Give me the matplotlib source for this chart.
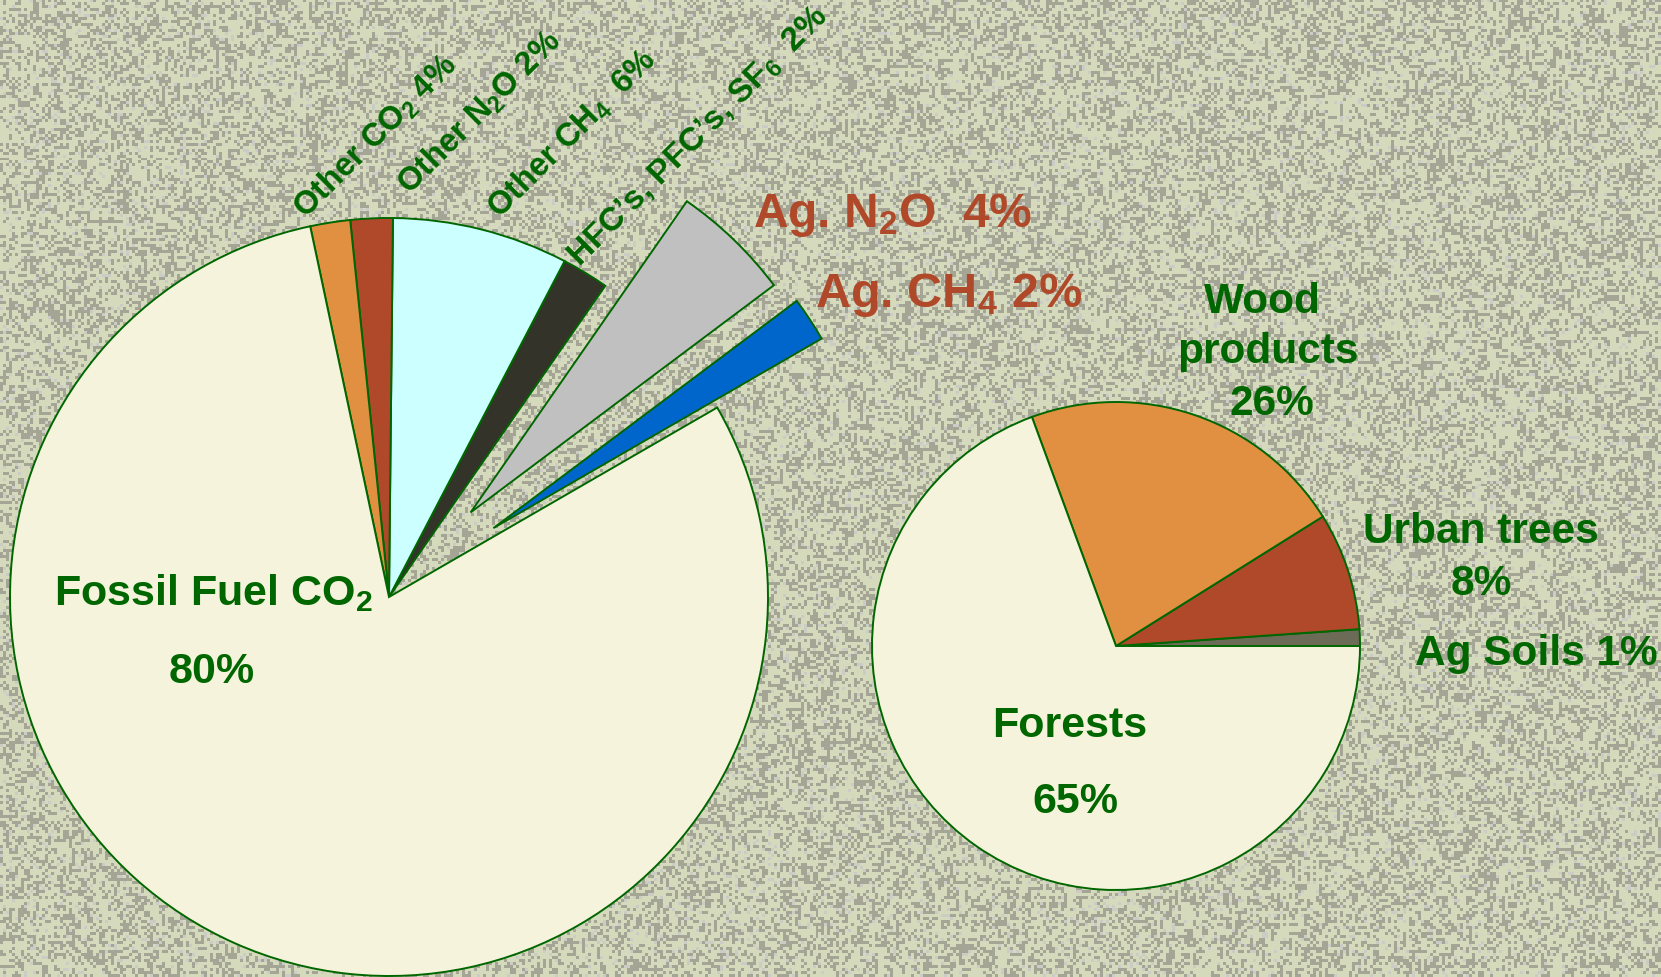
import numpy as np
import matplotlib
matplotlib.use("Agg")
import matplotlib.pyplot as plt

plt.rcParams['font.family'] = ['Liberation Sans', 'DejaVu Sans']
plt.rcParams['font.weight'] = 'bold'
plt.rcParams['mathtext.fontset'] = 'custom'
plt.rcParams['mathtext.rm'] = 'Liberation Sans:bold'
plt.rcParams['mathtext.it'] = 'Liberation Sans:bold'
plt.rcParams['mathtext.bf'] = 'Liberation Sans:bold'
plt.rcParams['mathtext.default'] = 'rm'

# left pie: greenhouse gas sources (share of the drawn circle, %), counterclockwise from 30 deg
left_names = ['Ag. CH4', 'Ag. N2O', "HFC's, PFC's, SF6", 'Other CH4', 'Other N2O', 'Other CO2', 'Fossil Fuel CO2']
left_values = [1.9, 5.1, 2.0, 7.5, 1.8, 1.7, 80.0]
left_colors = ['#0066cc', '#c0c0c0', '#333329', '#ccffff', '#b0482a', '#e09040', '#f5f3dc']
left_explode = [0.33, 0.31, 0, 0, 0, 0, 0]

# right pie: carbon sinks, counterclockwise from 0 deg
right_names = ['Ag Soils', 'Urban trees', 'Wood products', 'Forests']
right_values = [1.1, 7.8, 21.7, 69.4]
right_colors = ['#6b6b58', '#b0482a', '#e09040', '#f5f3dc']

W, H = 1661, 978
GREEN = '#006600'
RUST = '#b0482a'

fig = plt.figure(figsize=(W / 100, H / 100), dpi=100)
ax = fig.add_axes([0, 0, 1, 1])

# speckled slide background (deterministic hash pattern, ~3 px cells)
yy, xx = np.mgrid[0:H // 3 + 1, 0:W // 3 + 1]
h = np.sin(xx * 12.9898 + yy * 78.233) * 43758.5453
h = h - np.floor(h)
h2 = np.sin((xx // 4) * 39.346 + (yy // 4) * 11.135) * 24634.6345
h2 = h2 - np.floor(h2)
tex = np.empty(h.shape + (3,))
tex[:] = (0.843, 0.855, 0.745)
tex[h > 0.70 - 0.25 * h2] = (0.65, 0.65, 0.59)
tex[h > 0.94] = (0.80, 0.80, 0.78)
ax.imshow(tex, extent=(0, W, 0, H), interpolation='nearest', zorder=0)

edge = dict(edgecolor=GREEN, linewidth=1.4)

R1 = 379
ax.pie(left_values, colors=left_colors, startangle=30.0, counterclock=True,
       center=(389, H - 598), radius=R1,
       explode=[e * R1 for e in left_explode], wedgeprops=edge)

R2 = 244
ax.pie(right_values, colors=right_colors, startangle=0.0, counterclock=True,
       center=(1116, H - 647), radius=R2, wedgeprops=edge)

ax.set_xlim(0, W)
ax.set_ylim(0, H)
ax.set_aspect('equal')
ax.axis('off')


def label(x, y, s, size=31, color=GREEN, ha='center', rot=0):
    ax.text(x, H - y, s, fontsize=size, color=color, ha=ha, va='baseline',
            rotation=rot, rotation_mode='anchor', fontweight='bold', zorder=5)


label(213, 605, r'Fossil Fuel CO$_2$')
label(212, 683, '80%')
label(1070, 737, 'Forests')
label(1075, 813, '65%')
label(1262, 313, 'Wood', size=30.5)
label(1268, 363, 'products', size=30.5)
label(1272, 415, '26%', size=30.5)
label(1481, 543, 'Urban trees', size=30.5)
label(1481, 595, '8%', size=30.5)
label(1536, 665, 'Ag Soils 1%', size=30.5)

label(753, 227, r'Ag. N$_2$O  4%', size=34.5, color=RUST, ha='left')
label(815, 307, r'Ag. CH$_4$ 2%', size=35, color=RUST, ha='left')

label(306, 220, r'Other CO$_2$ 4%', size=23.5, ha='left', rot=45)
label(410, 196, r'Other N$_2$O 2%', size=23.5, ha='left', rot=45)
label(500, 220, r'Other CH$_4$  6%', size=23.5, ha='left', rot=45)
label(580, 268, 'HFC\u2019s, PFC\u2019s, SF$_6$  2%', size=24, ha='left', rot=45)

fig.savefig('out.png', dpi=100)
